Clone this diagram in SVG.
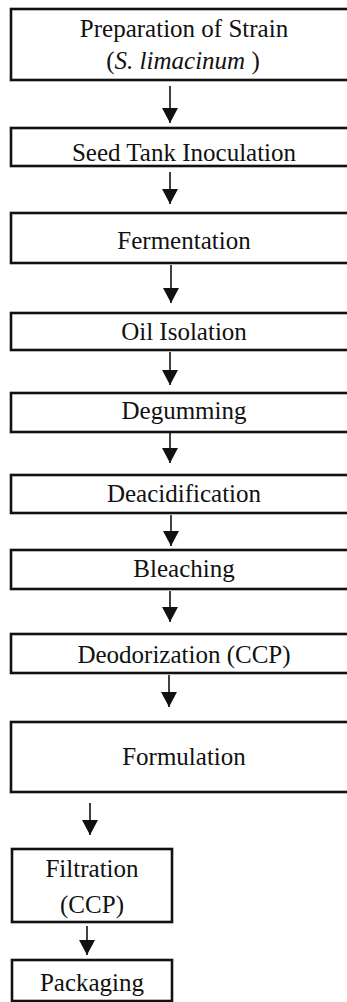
<svg xmlns="http://www.w3.org/2000/svg" width="347" height="1002" viewBox="0 0 347 1002">
<style>
.box{fill:#fff;stroke:#111;stroke-width:2.6}
.t{font-family:"Liberation Serif","Times New Roman",Times,serif;font-size:25px;fill:#111;text-anchor:middle}
.c{stroke:#111;stroke-width:1.6;fill:none;marker-end:url(#ah)}
</style>
<defs>
<marker id="ah" markerUnits="userSpaceOnUse" markerWidth="16" markerHeight="16" refX="14" refY="7.5" orient="auto" viewBox="0 0 15 15">
<path d="M0,0 L14,7.5 L0,15 Z" fill="#111"/>
</marker>
</defs>
<rect width="347" height="1002" fill="#fff"/>
<g id="connectors">
<line class="c" x1="170" y1="86" x2="170" y2="123"/>
<line class="c" x1="170" y1="172" x2="170" y2="204"/>
<line class="c" x1="171" y1="265" x2="171" y2="303"/>
<line class="c" x1="170" y1="352" x2="170" y2="385"/>
<line class="c" x1="170" y1="433" x2="170" y2="463"/>
<line class="c" x1="171" y1="515" x2="171" y2="546"/>
<line class="c" x1="170" y1="591" x2="170" y2="622"/>
<line class="c" x1="169" y1="675" x2="169" y2="707"/>
<line class="c" x1="90" y1="803" x2="90" y2="835"/>
<line class="c" x1="87" y1="926" x2="87" y2="955"/>
</g>
<g id="n1"><rect class="box" x="11" y="9" width="345" height="71"/>
<text class="t" x="184" y="37">Preparation of Strain</text>
<text class="t" x="183" y="69">(<tspan font-style="italic">S. limacinum</tspan> )</text></g>
<g id="n2"><rect class="box" x="11" y="128" width="345" height="38"/>
<text class="t" x="184" y="161">Seed Tank Inoculation</text></g>
<g id="n3"><rect class="box" x="11" y="213" width="345" height="50"/>
<text class="t" x="184" y="249">Fermentation</text></g>
<g id="n4"><rect class="box" x="11" y="313" width="345" height="37"/>
<text class="t" x="184" y="340">Oil Isolation</text></g>
<g id="n5"><rect class="box" x="11" y="393" width="345" height="39"/>
<text class="t" x="184" y="419">Degumming</text></g>
<g id="n6"><rect class="box" x="11" y="475" width="345" height="38"/>
<text class="t" x="184" y="502">Deacidification</text></g>
<g id="n7"><rect class="box" x="11" y="550" width="345" height="39"/>
<text class="t" x="184" y="577">Bleaching</text></g>
<g id="n8"><rect class="box" x="11" y="634" width="345" height="39"/>
<text class="t" x="184" y="663">Deodorization (CCP)</text></g>
<g id="n9"><rect class="box" x="11" y="722" width="345" height="70"/>
<text class="t" x="184" y="765">Formulation</text></g>
<g id="n10"><rect class="box" x="12" y="849" width="160" height="73"/>
<text class="t" x="92" y="877">Filtration</text>
<text class="t" x="92" y="913">(CCP)</text></g>
<g id="n11"><rect class="box" x="12" y="960" width="160" height="41"/>
<text class="t" x="92" y="991">Packaging</text></g>
</svg>
